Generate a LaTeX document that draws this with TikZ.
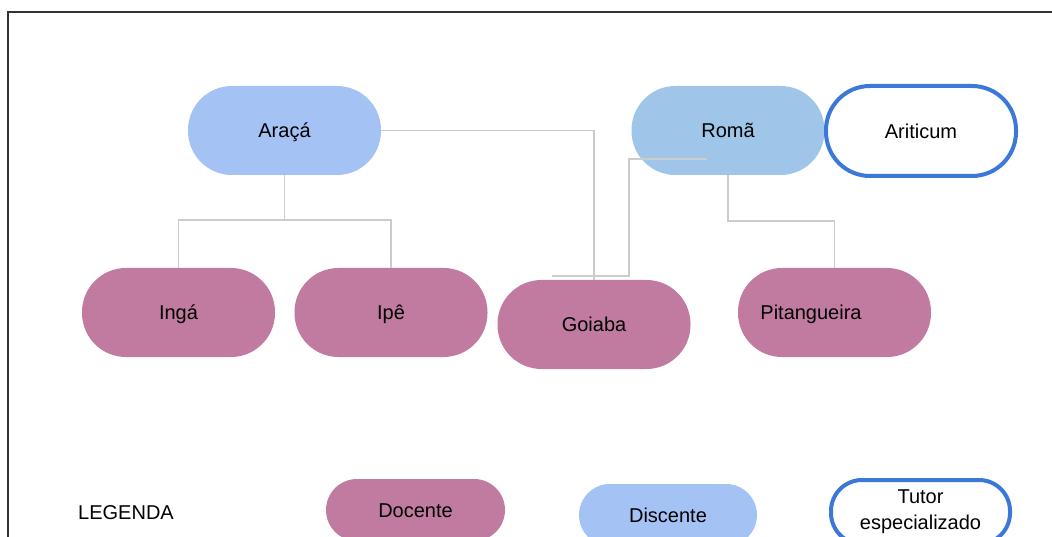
\documentclass[tikz,border=0pt]{standalone}
\usepackage{fontspec}
\setmainfont{Liberation Sans}
\definecolor{docente}{HTML}{C27BA0}
\definecolor{discente}{HTML}{A4C2F4}
\definecolor{discenteb}{HTML}{9FC5E8}
\definecolor{tutor}{HTML}{3C78D8}
\definecolor{wire}{HTML}{CCCCCC}
\definecolor{framec}{HTML}{333333}
\begin{document}
\begin{tikzpicture}[x=1pt,y=-1pt,
  bigtext/.style={font=\fontsize{20}{24}\selectfont, text=black},
  oneline/.style={text height=14.5pt, text depth=0pt},
  pill/.style={rectangle, rounded corners=44pt, minimum width=193pt, minimum height=89pt,
    inner sep=0pt, bigtext},
  docbox/.style={pill, fill=docente},
  disbox/.style={pill, fill=discente},
  tutbox/.style={pill, draw=tutor, line width=4pt, fill=white, minimum width=190pt, minimum height=90pt},
  wirel/.style={draw=wire, line width=1.2pt},
  legbox/.style={rounded corners=31pt, minimum height=62pt}]
  \useasboundingbox (0,0) rectangle (1052,537);
  \clip (0,0) rectangle (1052,537);
  % outer frame (top and left edges only)
  \draw[framec, line width=1.5pt] (8,537) -- (8,12) -- (1052,12);

  % tree nodes
  \node[disbox, oneline] (araca) at (284.5,130.5) {Araçá};
  \node[disbox, oneline, fill=discenteb] (roma) at (728,130.5) {Romã};
  \node[tutbox, oneline] (ariticum) at (921,131) {Ariticum};
  \node[docbox, oneline] (inga) at (178.5,312.5) {Ingá};
  \node[docbox, oneline] (ipe) at (391,312.5) {Ipê};
  \node[docbox, oneline] (goiaba) at (594,324.5) {Goiaba};
  \node[docbox] (pit) at (834.5,312.5) {};
  \node[bigtext, oneline, inner sep=0pt] (pitlabel) at (811,312.5) {Pitangueira};

  % connectors
  \coordinate (aj) at (284.5,220);
  \coordinate (rj) at (728,221);
  \coordinate (rin) at (707,159);
  \coordinate (rk) at (629,276);
  \coordinate (gend) at (552,276);
  \draw[wirel] (araca.south) -- (aj);
  \draw[wirel] (inga.north) |- (aj) -| (ipe.north);
  \draw[wirel] (araca.east) -| (goiaba.north);
  \draw[wirel] (rin) -| (rk) -- (gend);
  \draw[wirel] (roma.south) -- (rj) -| (pit.north);

  % legend
  \node[bigtext, oneline, inner sep=0pt] (legenda) at (126,512) {LEGENDA};
  \node[docbox, oneline, legbox, minimum width=179pt] (ldoc) at (415.5,510) {Docente};
  \node[disbox, oneline, legbox, minimum width=178pt] (ldis) at (668,515) {Discente};
  \node[tutbox, legbox, minimum width=179pt, minimum height=64pt, align=center,
    font=\fontsize{20}{26}\selectfont] (ltut) at (920.5,512) {Tutor\\especializado};
\end{tikzpicture}
\end{document}
